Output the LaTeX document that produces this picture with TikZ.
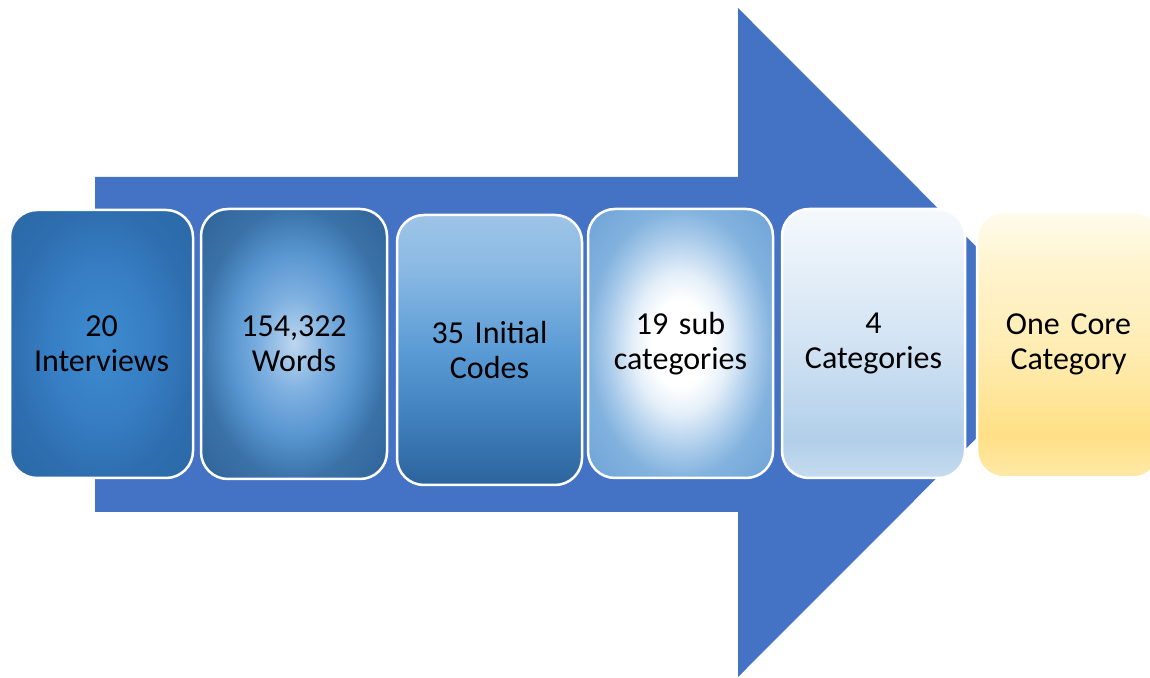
\documentclass[tikz,border=0pt]{standalone}
\usepackage{fontspec}
\setmainfont{Carlito}

% arrow and box colours
\definecolor{arrowblue}{HTML}{4472C4}

% radial fills (box maps to -25bp..25bp)
\pgfdeclareradialshading{interviewsfill}{\pgfpoint{0bp}{0bp}}{%
  color(0bp)=(rgb,255:red,62;green,139;blue,208);
  color(14bp)=(rgb,255:red,55;green,126;blue,196);
  color(25bp)=(rgb,255:red,46;green,110;blue,175);
  color(36bp)=(rgb,255:red,43;green,104;blue,166)}
\pgfdeclareradialshading{wordsfill}{\pgfpoint{0bp}{0bp}}{%
  color(0bp)=(rgb,255:red,190;green,214;blue,238);
  color(9bp)=(rgb,255:red,126;green,176;blue,224);
  color(17bp)=(rgb,255:red,88;green,150;blue,208);
  color(25bp)=(rgb,255:red,58;green,114;blue,168);
  color(36bp)=(rgb,255:red,46;green,98;blue,152)}
\pgfdeclareradialshading{subfill}{\pgfpoint{0bp}{0bp}}{%
  color(0bp)=(white);
  color(8bp)=(white);
  color(13bp)=(rgb,255:red,228;green,239;blue,249);
  color(20bp)=(rgb,255:red,168;green,202;blue,234);
  color(25bp)=(rgb,255:red,130;green,178;blue,222);
  color(36bp)=(rgb,255:red,108;green,162;blue,215)}
% vertical fills (box maps to 25bp..75bp, bottom to top)
\pgfdeclareverticalshading{codesfill}{100bp}{%
  color(0bp)=(rgb,255:red,44;green,100;blue,157);
  color(25bp)=(rgb,255:red,44;green,100;blue,157);
  color(37bp)=(rgb,255:red,63;green,127;blue,187);
  color(50bp)=(rgb,255:red,91;green,155;blue,213);
  color(65bp)=(rgb,255:red,138;green,185;blue,227);
  color(75bp)=(rgb,255:red,158;green,196;blue,231);
  color(100bp)=(rgb,255:red,158;green,196;blue,231)}
\pgfdeclareverticalshading{catfill}{100bp}{%
  color(0bp)=(rgb,255:red,198;green,219;blue,239);
  color(25bp)=(rgb,255:red,198;green,219;blue,239);
  color(32bp)=(rgb,255:red,177;green,207;blue,234);
  color(50bp)=(rgb,255:red,210;green,227;blue,243);
  color(75bp)=(rgb,255:red,245;green,249;blue,253);
  color(100bp)=(rgb,255:red,245;green,249;blue,253)}
\pgfdeclareverticalshading{corefill}{100bp}{%
  color(0bp)=(rgb,255:red,255;green,233;blue,168);
  color(25bp)=(rgb,255:red,255;green,233;blue,168);
  color(33bp)=(rgb,255:red,255;green,224;blue,134);
  color(50bp)=(rgb,255:red,255;green,237;blue,181);
  color(65bp)=(rgb,255:red,255;green,244;blue,207);
  color(75bp)=(rgb,255:red,255;green,252;blue,238);
  color(100bp)=(rgb,255:red,255;green,252;blue,238)}

\tikzset{
  stagebox/.style={rectangle, rounded corners=27pt, draw=white, line width=2.5pt,
    minimum width=183pt, minimum height=268pt, align=center, text width=178pt,
    font=\fontsize{32}{35}\selectfont, text=black, inner sep=0pt},
}

\begin{document}
\begin{tikzpicture}[x=1pt,y=1pt]
  \path[use as bounding box] (0,0) rectangle (1150,677);
  \clip (0,0) rectangle (1150,677);

  % block arrow behind the stages
  \fill[arrowblue] (95,500) -- (738,500) -- (738,669) -- (1072,334.5)
    -- (738,0) -- (738,165) -- (95,165) -- cycle;

  % stages
  \node[stagebox, shading=interviewsfill, minimum width=183pt, minimum height=268pt]
    (n1) at (101.5,333) {20\\Interviews};
  \node[stagebox, shading=wordsfill, minimum width=186pt, minimum height=270pt]
    (n2) at (294,333) {154,322\\Words};
  \node[stagebox, shading=codesfill, minimum width=185pt, minimum height=270pt]
    (n3) at (489.5,327) {35 Initial\\Codes};
  \node[stagebox, shading=subfill, minimum width=185pt, minimum height=269pt]
    (n4) at (680.5,333.5) {19 sub\\categories};
  \node[stagebox, shading=catfill, minimum width=183pt, minimum height=269pt]
    (n5) at (873.5,333.5) {4\\Categories};
  \node[stagebox, shading=corefill, minimum width=183pt, minimum height=266pt]
    (n6) at (1068.5,332.5) {One Core\\Category};
\end{tikzpicture}
\end{document}
